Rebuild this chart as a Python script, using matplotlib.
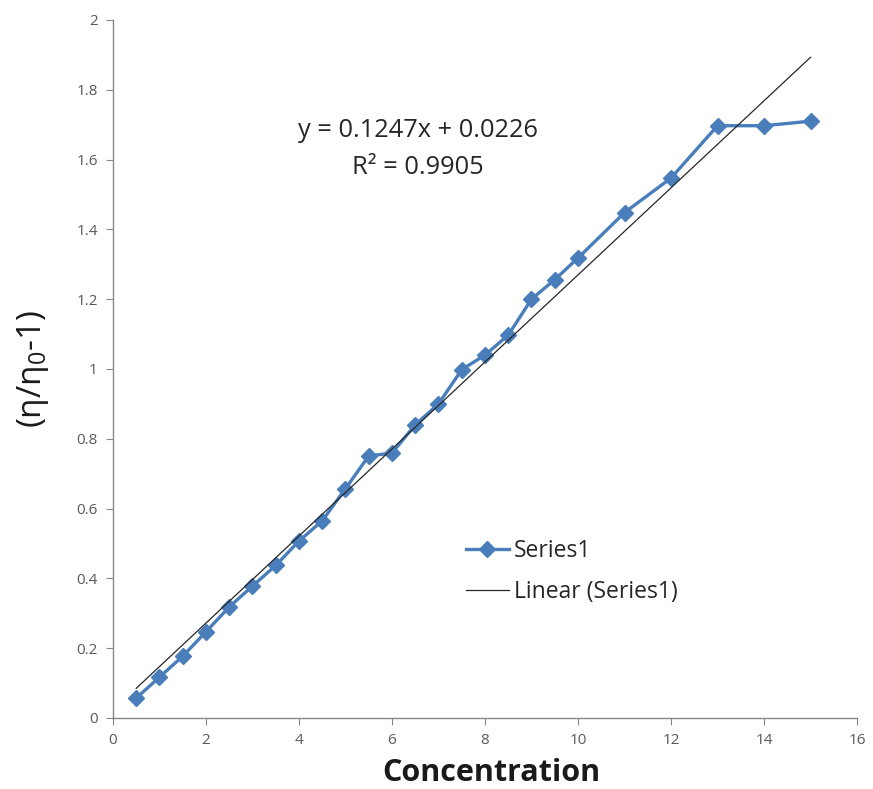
import matplotlib
matplotlib.use("Agg")
import matplotlib.pyplot as plt
import numpy as np

concentration = [0.5, 1, 1.5, 2, 2.5, 3, 3.5, 4, 4.5, 5, 5.5, 6, 6.5, 7, 7.5, 8, 8.5,
                 9, 9.5, 10, 11, 12, 13, 14, 15]
reduced_visc = [0.057, 0.117, 0.177, 0.247, 0.318, 0.378, 0.437, 0.507, 0.565, 0.657,
                0.751, 0.759, 0.840, 0.900, 0.998, 1.040, 1.097, 1.200, 1.256, 1.318,
                1.448, 1.547, 1.697, 1.697, 1.710]
slope = 0.1247
intercept = 0.0226
r_squared = 0.9905

x_ticks = [0, 2, 4, 6, 8, 10, 12, 14, 16]
y_ticks = [0, 0.2, 0.4, 0.6, 0.8, 1, 1.2, 1.4, 1.6, 1.8, 2]
y_tick_labels = ["0", "0.2", "0.4", "0.6", "0.8", "1", "1.2", "1.4", "1.6", "1.8", "2"]

plt.rcParams['font.family'] = ['Open Sans', 'DejaVu Sans']

fig = plt.figure(figsize=(8.73, 7.89), dpi=100)
ax = fig.add_axes([0.1294, 0.0900, 0.8523, 0.8847])

blue = "#4A7EBB"
ax.plot(concentration, reduced_visc, color=blue, lw=2.4, marker="D", ms=8.5,
        label="Series1", zorder=3)
xs = np.array([concentration[0], concentration[-1]])
ax.plot(xs, slope * xs + intercept, color="#262626", lw=0.9, label="Linear (Series1)", zorder=4)

ax.set_xlim(0, 16)
ax.set_ylim(0, 2)
ax.set_xticks(x_ticks)
ax.set_yticks(y_ticks)
ax.set_yticklabels(y_tick_labels)

for s in ["top", "right"]:
    ax.spines[s].set_visible(False)
for s in ["left", "bottom"]:
    ax.spines[s].set_color("#868686")
    ax.spines[s].set_linewidth(1.0)
ax.tick_params(axis="both", direction="out", length=5, color="#868686",
               labelsize=11, labelcolor="#595959", pad=6)

ax.set_xlabel("Concentration", fontsize=22, fontweight="bold", color="#1a1a1a")
ax.xaxis.set_label_coords(0.508, -0.058)
ax.xaxis.label.set_verticalalignment("top")
ax.set_ylabel(r"(η/η$_\mathregular{0}$-1)", fontsize=24, color="#1a1a1a", labelpad=18)

ax.text(6.55, 1.683, f"y = {slope}x + {intercept}", fontsize=18.3, ha="center", va="center",
        color="#262626")
ax.text(6.55, 1.577, f"R² = {r_squared}", fontsize=18.3, ha="center", va="center",
        color="#262626")

leg = ax.legend(loc="upper left", bbox_to_anchor=(0.515, 0.337), bbox_transform=fig.transFigure,
                frameon=False, fontsize=16.5, handlelength=1.9, handletextpad=0.2,
                labelspacing=0.75, labelcolor="#262626", borderpad=0.2)

fig.savefig("out.png", dpi=100)
